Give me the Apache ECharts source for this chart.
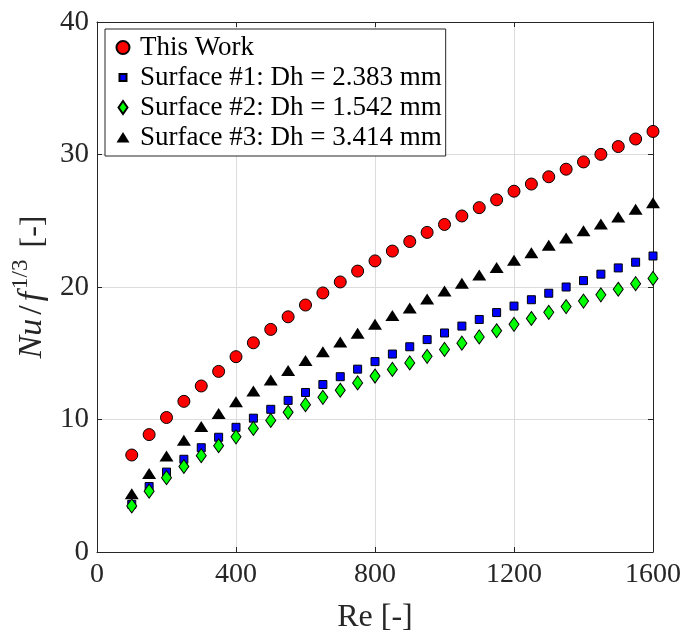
<!DOCTYPE html>
<html>
<head>
<meta charset="utf-8">
<script src="https://cdn.jsdelivr.net/npm/echarts@6/dist/echarts.min.js"></script>
<style>html,body{margin:0;padding:0;background:#fff}#c{width:684px;height:639px}</style>
</head>
<body>
<div id="c"></div>
<script>
var re = [100,150,200,250,300,350,400,450,500,550,600,650,700,750,800,850,900,950,1000,1050,1100,1150,1200,1250,1300,1350,1400,1450,1500,1550,1600];
var thisWork = [7.32,8.86,10.15,11.37,12.53,13.63,14.74,15.79,16.80,17.75,18.64,19.55,20.38,21.2,21.97,22.71,23.43,24.12,24.72,25.36,25.99,26.58,27.23,27.77,28.32,28.89,29.44,30.01,30.60,31.17,31.74];
var surf1 = [3.6,4.94,6.03,7.0,7.87,8.66,9.41,10.10,10.77,11.44,12.04,12.64,13.23,13.80,14.37,14.94,15.49,16.03,16.53,17.05,17.55,18.07,18.56,19.04,19.53,20.0,20.48,20.97,21.44,21.87,22.34];
var surf2 = [3.48,4.59,5.61,6.45,7.27,8.02,8.69,9.33,9.93,10.55,11.12,11.67,12.21,12.76,13.28,13.78,14.27,14.77,15.29,15.76,16.23,16.70,17.18,17.62,18.09,18.52,18.94,19.41,19.83,20.25,20.65];
var surf3 = [4.39,5.93,7.25,8.44,9.48,10.45,11.34,12.16,12.98,13.70,14.45,15.12,15.84,16.51,17.18,17.85,18.42,19.09,19.7,20.28,20.90,21.47,22.02,22.59,23.16,23.70,24.25,24.75,25.29,25.86,26.36];
var names = ['This Work','Surface #1: Dh = 2.383 mm','Surface #2: Dh = 1.542 mm','Surface #3: Dh = 3.414 mm'];
var xTicks = [0,400,800,1200,1600];
var yTicks = [0,10,20,30,40];

function pairs(v){ return re.map(function(x,i){ return [x, v[i]]; }); }
var serif = '"Liberation Serif","DejaVu Serif",serif';
var axisCol = '#262626';

var legendIcons = [
  'path://M0,0M14,14M7,0.5A6.5,6.5,0,1,1,6.99,0.5Z',
  'path://M0,0M14,14M3.5,3.5L10.5,3.5L10.5,10.5L3.5,10.5Z',
  'path://M0,0M14,14M7,0.5L11.5,7L7,13.5L2.5,7Z',
  'path://M0,0M14,14M0.5,12L7,1.5L13.5,12Z'
];

var chart = echarts.init(document.getElementById('c'), null, {renderer:'canvas'});
chart.setOption({
  animation:false,
  backgroundColor:'#fff',
  grid:{left:97, right:27, top:22, bottom:80, containLabel:false},
  legend:{
    orient:'vertical', left:105, top:29,
    backgroundColor:'#fff', borderColor:'#262626', borderWidth:1,
    padding:[5,4,5,10], itemGap:3, itemWidth:14, itemHeight:14,
    textStyle:{fontFamily:serif, fontSize:27, color:'#000', padding:[0,0,0,5]},
    data:names.map(function(n,i){ return {name:n, icon:legendIcons[i]}; })
  },
  xAxis:[{
    type:'value', min:0, max:1600, interval:400, position:'bottom',
    axisLine:{show:true, onZero:false, lineStyle:{color:axisCol, width:1}},
    axisTick:{show:true, inside:true, length:5, lineStyle:{color:axisCol}},
    axisLabel:{fontFamily:serif, fontSize:28, color:'#262626', margin:9, formatter:function(v){return String(v);}},
    splitLine:{show:true, lineStyle:{color:'#dcdcdc', width:1}},
    name:'Re [-]', nameLocation:'middle', nameGap:50,
    nameTextStyle:{fontFamily:serif, fontSize:32, color:'#262626'}
  },{
    type:'value', min:0, max:1600, interval:400, position:'top',
    axisLine:{show:true, onZero:false, lineStyle:{color:axisCol, width:1}},
    axisTick:{show:true, inside:true, length:5, lineStyle:{color:axisCol}},
    axisLabel:{show:false}, splitLine:{show:false}
  }],
  yAxis:[{
    type:'value', min:0, max:40, interval:10, position:'left',
    axisLine:{show:true, onZero:false, lineStyle:{color:axisCol, width:1}},
    axisTick:{show:true, inside:true, length:5, lineStyle:{color:axisCol}},
    axisLabel:{fontFamily:serif, fontSize:29, color:'#262626', margin:8},
    splitLine:{show:true, lineStyle:{color:'#dcdcdc', width:1}},
    name:'{i|Nu}{n|/}{f|f}{s|1/3}{b|[-]}', nameLocation:'middle', nameGap:44, nameRotate:90,
    nameTextStyle:{fontFamily:serif, fontSize:34, color:'#262626',
      rich:{
        i:{fontFamily:serif, fontStyle:'italic', fontSize:34, color:'#262626', verticalAlign:'bottom', lineHeight:40},
        n:{fontFamily:serif, fontSize:34, color:'#262626', verticalAlign:'bottom', lineHeight:40, padding:[0,4,0,4]},
        f:{fontFamily:serif, fontStyle:'italic', fontSize:34, color:'#262626', verticalAlign:'bottom', lineHeight:40, padding:[0,2,0,0]},
        s:{fontFamily:serif, fontSize:23, color:'#262626', verticalAlign:'top', lineHeight:40, padding:[0,0,16,1]},
        b:{fontFamily:serif, fontSize:32, color:'#262626', verticalAlign:'bottom', lineHeight:40, padding:[0,0,0,12]}
      }}
  },{
    type:'value', min:0, max:40, interval:10, position:'right',
    axisLine:{show:true, onZero:false, lineStyle:{color:axisCol, width:1}},
    axisTick:{show:true, inside:true, length:5, lineStyle:{color:axisCol}},
    axisLabel:{show:false}, splitLine:{show:false}
  }],
  series:[
    {name:names[0], type:'scatter', symbol:'circle', symbolSize:12, data:pairs(thisWork),
      itemStyle:{color:'#ff0000', borderColor:'#000', borderWidth:1, opacity:1}, z:2},
    {name:names[1], type:'scatter', symbol:'rect', symbolSize:8, data:pairs(surf1),
      itemStyle:{color:'#0000ff', borderColor:'#000', borderWidth:1, opacity:1}, z:3},
    {name:names[2], type:'scatter', symbol:'diamond', symbolSize:[10,14], data:pairs(surf2),
      itemStyle:{color:'#00ff00', borderColor:'#000', borderWidth:1, opacity:1}, z:4},
    {name:names[3], type:'scatter', symbol:'triangle', symbolSize:[14,11], data:pairs(surf3),
      itemStyle:{color:'#000', borderColor:'#000', borderWidth:0, opacity:1}, z:5}
  ]
});
</script>
</body>
</html>
